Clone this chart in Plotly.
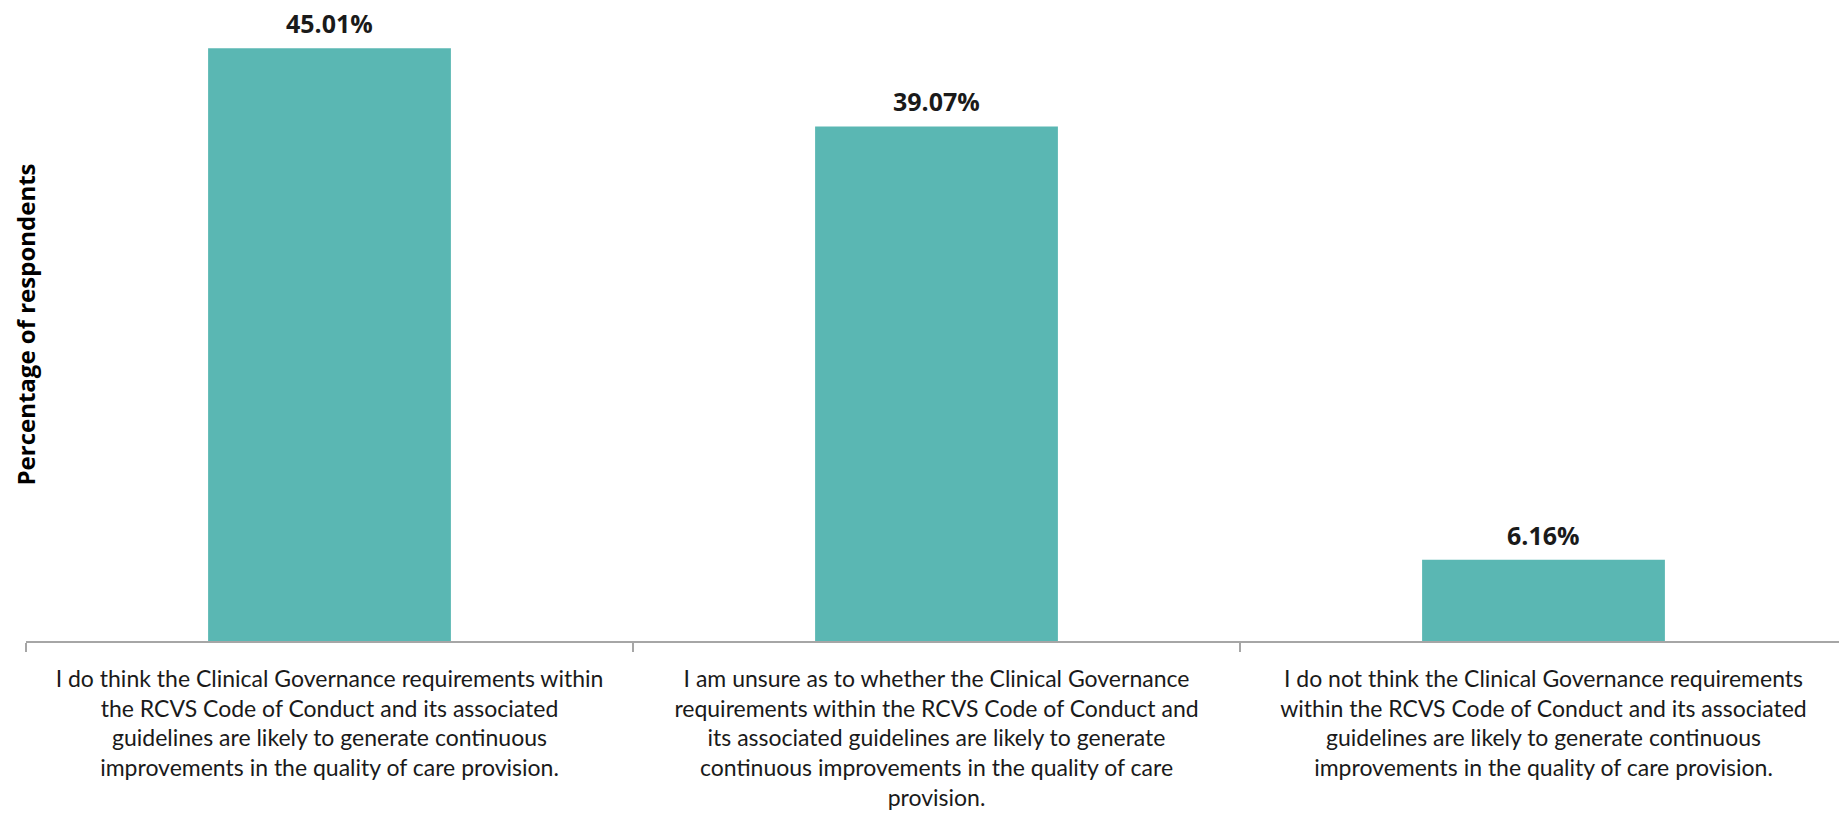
import plotly.graph_objects as go

categories = ["do_think", "unsure", "do_not_think"]
tick_labels = [
    "I do think the Clinical Governance requirements within<br>the RCVS Code of Conduct and its associated<br>guidelines are likely to generate continuous<br>improvements in the quality of care provision.",
    "I am unsure as to whether the Clinical Governance<br>requirements within the RCVS Code of Conduct and<br>its associated guidelines are likely to generate<br>continuous improvements in the quality of care<br>provision.",
    "I do not think the Clinical Governance requirements<br>within the RCVS Code of Conduct and its associated<br>guidelines are likely to generate continuous<br>improvements in the quality of care provision.",
]
values = [45.01, 39.07, 6.16]
value_labels = ["45.01%", "39.07%", "6.16%"]

BAR = "#5AB7B3"

fig = go.Figure()
fig.add_trace(go.Bar(
    x=categories, y=values, marker_color=BAR, marker_line_width=0,
    hoverinfo="skip",
))

for c, v, t in zip(categories, values, value_labels):
    fig.add_annotation(
        x=c, y=v, text="<b>" + t + "</b>", showarrow=False,
        yanchor="bottom", yshift=7, borderpad=0,
        font=dict(family="Open Sans", size=25, color="#1a1a1a"),
    )

fig.add_annotation(
    xref="paper", yref="paper", x=0, y=0.5, xanchor="center", yanchor="middle",
    xshift=-1, textangle=-90, showarrow=False, borderpad=0,
    text="<b>Percentage of respondents</b>",
    font=dict(family="Open Sans", size=24, color="#000000"),
)

fig.update_layout(
    width=1839, height=806,
    margin=dict(l=18, r=0, t=0, b=173),
    paper_bgcolor="white", plot_bgcolor="white",
    bargap=0.6, showlegend=False,
    font=dict(family="Lato", color="#1a1a1a"),
)
fig.update_xaxes(
    tickmode="array", tickvals=categories, ticktext=tick_labels,
    tickson="boundaries", ticks="outside", ticklen=9, tickwidth=1.5,
    tickcolor="#a6a6a6", showline=True, linecolor="#a6a6a6", linewidth=2,
    tickfont=dict(family="Lato", size=23, color="#1a1a1a"),
    ticklabelstandoff=16, tickangle=0, automargin=False,
    showgrid=False,
)
fig.update_yaxes(
    range=[0, 48.06], showticklabels=False, showgrid=False, zeroline=False,
    showline=False, ticks="",
)

fig.write_html("out.html")
